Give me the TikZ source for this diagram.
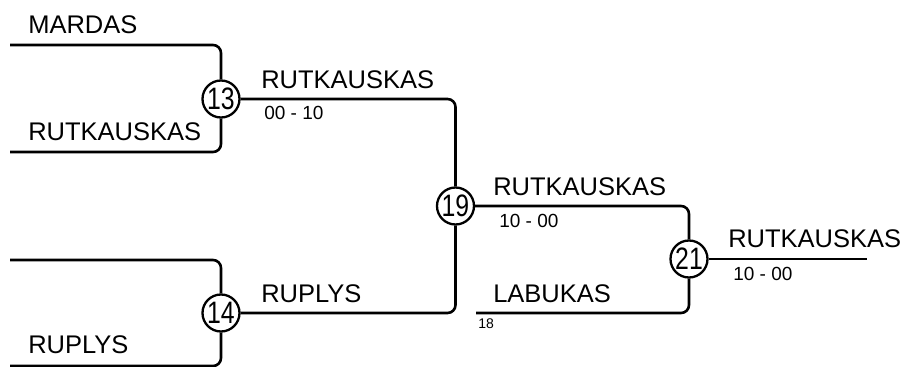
\documentclass[tikz,border=0pt]{standalone}
\usepackage{fontspec}
\setmainfont{Liberation Sans}
\usetikzlibrary{positioning}

\begin{document}
\begin{tikzpicture}[x=1pt, y=-1pt, line width=2.6pt,
    match/.style={circle, draw, fill=white, line width=2.3pt, minimum size=37pt, inner sep=0pt,
      font=\fontsize{31}{31}\selectfont},
    team/.style={anchor=base west, inner sep=0pt, font=\fontsize{25.5}{26}\selectfont},
    score/.style={anchor=base west, inner sep=0pt, font=\fontsize{19}{19}\selectfont},
    seed/.style={anchor=base west, inner sep=0pt, font=\fontsize{14}{14}\selectfont},
    bracket/.style={rounded corners=8pt}]
    \useasboundingbox (0,0) rectangle (906,367);

    % Free ends of the bracket
    \coordinate (e1) at (10,45);
    \coordinate (e2) at (10,152);
    \coordinate (e3) at (10,260);
    \coordinate (e4) at (10,366);
    \coordinate (e5) at (476,313);
    \coordinate (win) at (867,259);

    % Matches
    \node[match] (m13) at (221,99) {\scalebox{0.8}[1]{13}};
    \node[match] (m14) at (221,313) {\scalebox{0.8}[1]{14}};
    \node[match] (m19) at (455.5,206) {\scalebox{0.8}[1]{19}};
    \node[match] (m21) at (689,259) {\scalebox{0.8}[1]{21}};

    % Lines
    \draw[bracket] (e1) -| (m13);
    \draw[bracket] (e2) -| (m13);
    \draw[bracket] (e3) -| (m14);
    \draw[bracket] (e4) -| (m14);
    \draw[bracket] (m13) -| (m19);
    \draw[bracket] (m14) -| (m19);
    \draw[bracket] (m19) -| (m21);
    \draw[bracket] (e5) -| (m21);
    \draw (m21) -- (win);

    % Names and scores
    \node[team] (t1) at (27,33) {MARDAS};
    \node[team] (t2) at (27,140) {RUTKAUSKAS};
    \node[team] (t3) at (27,353) {RUPLYS};
    \node[team] (w13) at (260,88) {RUTKAUSKAS};
    \node[score] (s13) at (263,119) {00 - 10};
    \node[team] (w14) at (260,302) {RUPLYS};
    \node[team] (w19) at (492,195) {RUTKAUSKAS};
    \node[score] (s19) at (498,227) {10 - 00};
    \node[team] (t18) at (492,302) {LABUKAS};
    \node[seed] (n18) at (477,328) {18};
    \node[team] (w21) at (727,247) {RUTKAUSKAS};
    \node[score] (s21) at (732,280) {10 - 00};
\end{tikzpicture}
\end{document}
